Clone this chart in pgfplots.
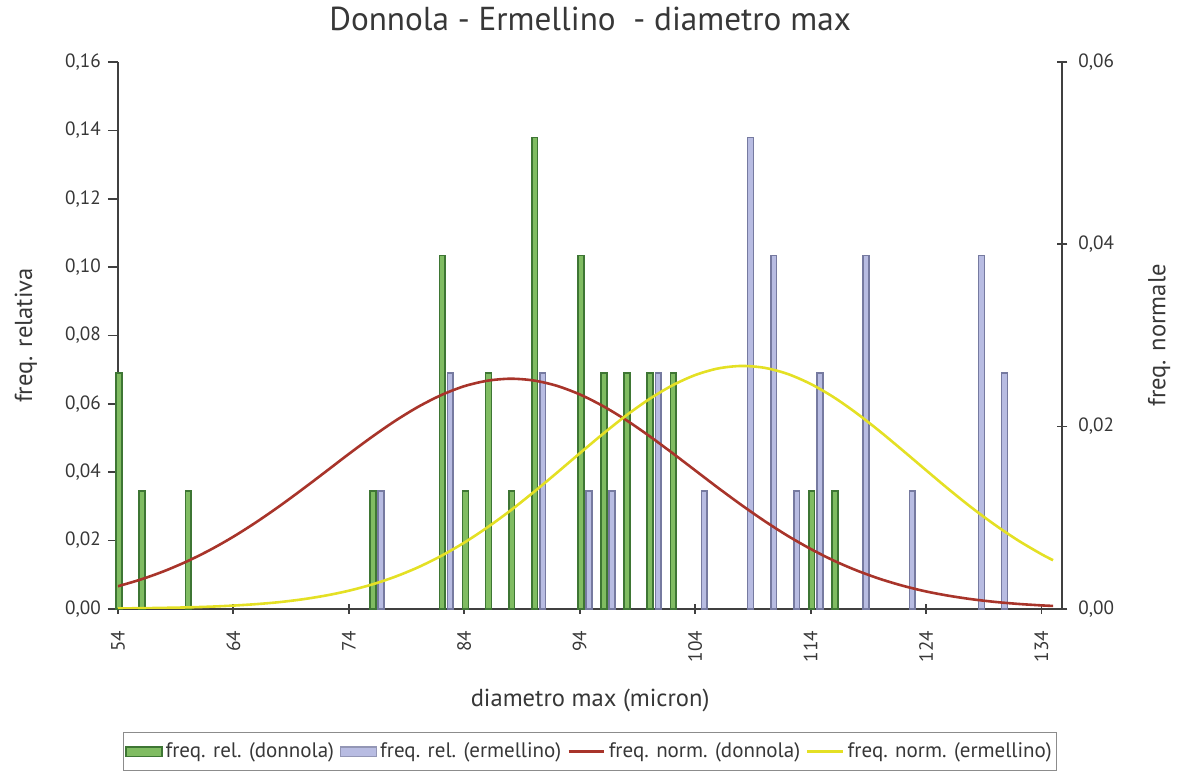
\documentclass[border=0pt]{standalone}
\usepackage{fontspec}
\setmainfont{PT Sans}
\usepackage{pgfplots}
\pgfplotsset{compat=1.18}

\definecolor{gfill}{RGB}{128,188,98}
\definecolor{gdraw}{RGB}{62,118,52}
\definecolor{bfill}{RGB}{184,188,226}
\definecolor{bdraw}{RGB}{118,122,160}
\definecolor{rline}{RGB}{168,52,42}
\definecolor{yline}{RGB}{228,224,36}
\definecolor{txt}{RGB}{55,55,55}

\pgfplotsset{
  common/.style={
    scale only axis, width=472.5pt, height=273.5pt,
    xmin=54, xmax=135.8, ymin=0,
    /pgf/number format/assume math mode=true,
    ticklabel style={font=\fontsize{9.6}{11}\selectfont, text=txt},
    label style={font=\fontsize{12.3}{14}\selectfont, text=txt},
    y tick label style={/pgf/number format/fixed, /pgf/number format/fixed zerofill,
      /pgf/number format/precision=2, /pgf/number format/use comma},
    scaled y ticks=false,
    axis line style={black!75, line width=0.9pt},
    major tick length=5pt,
    every tick/.style={black!75, line width=0.9pt},
  },
}

\begin{document}
\begin{tikzpicture}
\begin{axis}[
  common, name=main,
  ymax=0.16,
  axis y line*=left, axis x line*=bottom,
  xtick={54,64,74,84,94,104,114,124,134},
  xticklabel style={rotate=90, anchor=east}, xticklabel shift=5pt,
  ytick={0,0.02,0.04,0.06,0.08,0.10,0.12,0.14,0.16},
  ytick align=outside, xtick align=center,
  ylabel={freq. relativa},
  ylabel style={at={(rel axis cs:0,0.5)}, anchor=center, rotate=0, yshift=46pt},
  xlabel={diametro max (micron)},
  xlabel style={at={(rel axis cs:0.5,0)}, anchor=base, yshift=-49pt},
  title={Donnola - Ermellino\ \ - diametro max},
  title style={font=\fontsize{16.6}{18}\selectfont, text=txt,
    at={(rel axis cs:0.5,1)}, anchor=base, yshift=10pt},
  clip=false,
]
% freq. rel. (donnola)
\addplot[ybar, bar width=0.5, bar shift=0.1, fill=gfill, draw=gdraw, line width=0.8pt]
coordinates {
(54,0.0690)(56,0.0345)(60,0.0345)(76,0.0345)(82,0.1034)(84,0.0345)(86,0.0690)(88,0.0345)
(90,0.1379)(94,0.1034)(96,0.0690)(98,0.0690)(100,0.0690)(102,0.0690)(114,0.0345)(116,0.0345)
};
% freq. rel. (ermellino)
\addplot[ybar, bar width=0.5, bar shift=0.8, fill=bfill, draw=bdraw, line width=0.8pt]
coordinates {
(76,0.0345)(82,0.0690)(90,0.0690)(94,0.0345)(96,0.0345)(100,0.0690)(104,0.0345)(108,0.1379)
(110,0.1034)(112,0.0345)(114,0.0690)(118,0.1034)(122,0.0345)(128,0.1034)(130,0.0690)
};
\end{axis}

\begin{axis}[
  common,
  ymax=0.06,
  axis y line*=right, axis x line=none,
  ytick={0,0.02,0.04,0.06}, ytick align=center, yticklabel shift=2pt,
  ylabel={freq. normale},
  ylabel style={at={(rel axis cs:1,0.5)}, anchor=center, rotate=0, yshift=-48.5pt},
  legend style={at={(0.5,-0.2614)}, anchor=center, legend columns=4,
    draw=black!45, line width=0.6pt, inner xsep=1pt, inner ysep=3pt,
    font=\fontsize{10.5}{12}\selectfont, text=txt,
    nodes={inner xsep=1.5pt},
    /tikz/every even column/.append style={column sep=1.5pt}},
  legend image code/.code={\draw[#1] (0pt,0pt) -- (18pt,0pt);},
]
\addlegendimage{legend image code/.code={\draw[fill=gfill, draw=gdraw, line width=0.6pt] (0pt,-2.3pt) rectangle (18pt,2.3pt);}}
\addlegendentry{freq. rel. (donnola)}
\addlegendimage{legend image code/.code={\draw[fill=bfill, draw=bfill!80!black, line width=0.6pt] (0pt,-2.3pt) rectangle (18pt,2.3pt);}}
\addlegendentry{freq. rel. (ermellino)}
% freq. norm. (donnola)
\addplot[rline, line width=1.3pt, smooth] coordinates {
(54,0.00247)(56,0.00322)(58,0.00413)(60,0.00521)(62,0.00647)(64,0.00791)(66,0.00952)(68,0.01127)
(70,0.01313)(72,0.01505)(74,0.01699)(76,0.01886)(78,0.02061)(80,0.02216)(82,0.02345)(84,0.02443)
(86,0.02503)(88,0.02525)(90,0.02506)(92,0.02448)(94,0.02353)(96,0.02226)(98,0.02073)(100,0.01899)
(102,0.01712)(104,0.01519)(106,0.01326)(108,0.01140)(110,0.00964)(112,0.00802)(114,0.00657)(116,0.00529)
(118,0.00420)(120,0.00328)(122,0.00252)(124,0.00190)(126,0.00142)(128,0.00104)(130,0.00075)(132,0.00053)
(134,0.00037)(135,0.00031)
};
\addlegendentry{freq. norm. (donnola)}
% freq. norm. (ermellino)
\addplot[yline, line width=1.3pt, smooth] coordinates {
(54,0.00004)(56,0.00006)(58,0.00010)(60,0.00015)(62,0.00023)(64,0.00035)(66,0.00051)(68,0.00073)
(70,0.00104)(72,0.00145)(74,0.00198)(76,0.00266)(78,0.00351)(80,0.00455)(82,0.00580)(84,0.00726)
(86,0.00893)(88,0.01078)(90,0.01279)(92,0.01490)(94,0.01706)(96,0.01918)(98,0.02119)(100,0.02299)
(102,0.02450)(104,0.02565)(106,0.02638)(108,0.02665)(110,0.02645)(112,0.02578)(114,0.02468)(116,0.02322)
(118,0.02145)(120,0.01947)(122,0.01736)(124,0.01521)(126,0.01308)(128,0.01105)(130,0.00918)(132,0.00748)
(134,0.00599)(135,0.00533)
};
\addlegendentry{freq. norm. (ermellino)}
\end{axis}
% page margins round the axis, as in the reference
\path (main.south west) ++(-59pt,-82.5pt);
\path (main.north east) ++(57pt,31pt);
\end{tikzpicture}
\end{document}
